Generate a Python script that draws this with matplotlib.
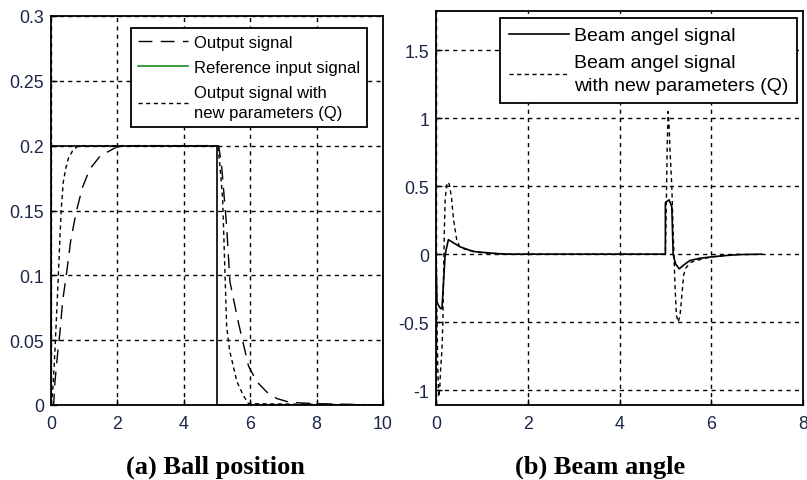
import numpy as np
import matplotlib.pyplot as plt
from matplotlib.lines import Line2D

# (a) ball position
ref_t = [0, 0, 5, 5, 10, 10]
ref_y = [0, 0.2, 0.2, 0, 0, 0.1]

out_t = [0, 0.08, 0.12, 0.2, 0.27, 0.35, 0.47, 0.6, 0.77, 0.95, 1.17, 1.48, 1.98, 2.5, 5.0,
         5.05, 5.14, 5.29, 5.39, 5.64, 5.95, 6.2, 6.5, 6.8, 7.2, 8.0, 10.0]
out_y = [0, 0, 0.018, 0.04, 0.056, 0.08, 0.102, 0.128, 0.15, 0.168, 0.182, 0.192, 0.199, 0.2, 0.2,
         0.2, 0.184, 0.138, 0.095, 0.064, 0.030, 0.018, 0.01, 0.005, 0.002, 0.001, 0.0]

q_t = [0, 0.03, 0.07, 0.12, 0.18, 0.23, 0.27, 0.32, 0.37, 0.45, 0.52, 0.65, 0.82, 5.0,
       5.03, 5.09, 5.17, 5.24, 5.29, 5.38, 5.49, 5.6, 5.8, 5.95, 10.0]
q_y = [0, 0.005, 0.018, 0.043, 0.076, 0.105, 0.13, 0.155, 0.172, 0.183, 0.19, 0.196, 0.2, 0.2,
       0.2, 0.184, 0.159, 0.102, 0.061, 0.042, 0.03, 0.018, 0.007, 0.001, 0.0]

# (b) beam angle
beam_t = [0, 0.01, 0.02, 0.06, 0.1, 0.13, 0.2, 0.27, 0.35, 0.52, 0.81, 1.3, 1.6, 5.0,
          5.0, 5.08, 5.14, 5.17, 5.22, 5.3, 5.4, 5.53, 5.75, 6.0, 6.3, 6.6, 7.1]
beam_y = [0, -0.18, -0.35, -0.38, -0.4, -0.4, 0, 0.107, 0.09, 0.055, 0.02, 0.005, 0, 0,
          0.38, 0.4, 0.35, 0, -0.07, -0.108, -0.08, -0.047, -0.03, -0.02, -0.01, -0.003, 0]

beamq_t = [0, 0.02, 0.04, 0.06, 0.08, 0.1, 0.13, 0.15, 0.17, 0.18, 0.2, 0.24, 0.27, 0.3, 0.34,
           0.38, 0.45, 0.52, 0.7, 1.0, 1.3, 1.6, 5.0,
           5.02, 5.04, 5.06, 5.08, 5.1, 5.14, 5.17, 5.21, 5.24, 5.28, 5.32, 5.36, 5.4, 5.45,
           5.55, 5.8, 6.0, 6.5, 6.6]
beamq_y = [0, -0.45, -0.85, -1.05, -1.0, -0.85, -0.7, -0.5, -0.05, 0.14, 0.41, 0.52, 0.53, 0.5, 0.41,
           0.26, 0.11, 0.05, 0.03, 0.01, 0.005, 0, 0,
           0.35, 0.8, 1.05, 0.95, 0.77, 0.5, 0.16, -0.23, -0.45, -0.5, -0.45, -0.3, -0.15, -0.1,
           -0.06, -0.035, -0.02, -0.005, 0]

labels_a = ['Output signal', 'Reference input signal', 'Output signal with\nnew parameters (Q)']
labels_b = ['Beam angel signal', 'Beam angel signal\nwith new parameters (Q)']

TICK_COLOR = '#1c2848'
LONG_DASH = (0, (10, 6))
SHORT_DASH = (0, (3, 2.5))

plt.rcParams['font.family'] = ['Liberation Sans', 'DejaVu Sans']

fig = plt.figure(figsize=(8.07, 4.81), dpi=100)
ax1 = fig.add_axes([51 / 807, 1 - 406 / 481, 332 / 807, 389 / 481])
ax2 = fig.add_axes([436 / 807, 1 - 406 / 481, 367 / 807, 394 / 481])


def style_axes(ax):
    ax.grid(True, color='black', linestyle=(0, (3, 3)), linewidth=1.0)
    ax.set_axisbelow(True)
    ax.tick_params(direction='in', length=4, width=1, colors='black',
                   labelcolor=TICK_COLOR, labelsize=12.8)
    ax.tick_params(axis='x', pad=7)
    ax.tick_params(axis='y', pad=5)
    for s in ax.spines.values():
        s.set_linewidth(1.3)


ax1.plot(ref_t, ref_y, color='black', linewidth=1.2)
ax1.plot(out_t, out_y, color='black', linewidth=1.0, linestyle=LONG_DASH)
ax1.plot(q_t, q_y, color='black', linewidth=1.0, linestyle=SHORT_DASH)
ax1.set_xlim(0, 10)
ax1.set_ylim(0, 0.3)
ax1.set_xticks(np.arange(0, 11, 2))
ax1.set_yticks([0, 0.05, 0.1, 0.15, 0.2, 0.25, 0.3])
ax1.set_yticklabels(['0', '0.05', '0.1', '0.15', '0.2', '0.25', '0.3'])
style_axes(ax1)

# legend shows the reference in green, as in the original figure
handles1 = [Line2D([], [], color='black', lw=1.0, linestyle=LONG_DASH),
            Line2D([], [], color='#1a8a1a', lw=1.2),
            Line2D([], [], color='black', lw=1.0, linestyle=SHORT_DASH)]
leg1 = ax1.legend(handles1, labels_a,
                  loc='upper right', bbox_to_anchor=(0.952, 0.969), borderaxespad=0,
                  fancybox=False, framealpha=1, edgecolor='black', fontsize=12,
                  handlelength=3.05, handletextpad=0.35, labelspacing=0.6,
                  borderpad=0.4)
leg1.get_frame().set_linewidth(1.3)
for t in leg1.get_texts():
    t.set_linespacing(1.45)

ax2.plot(beam_t, beam_y, color='black', linewidth=1.2)
ax2.plot(beamq_t, beamq_y, color='black', linewidth=1.0, linestyle=SHORT_DASH)
ax2.set_xlim(0, 8)
ax2.set_ylim(-1.11, 1.79)
ax2.set_xticks([0, 2, 4, 6, 8])
ax2.set_yticks([-1, -0.5, 0, 0.5, 1, 1.5])
ax2.set_yticklabels(['-1', '-0.5', '0', '0.5', '1', '1.5'])
style_axes(ax2)

handles2 = [Line2D([], [], color='black', lw=1.2),
            Line2D([], [], color='black', lw=1.0, linestyle=SHORT_DASH)]
leg2 = ax2.legend(handles2, labels_b,
                  loc='upper right', bbox_to_anchor=(0.984, 0.982), borderaxespad=0,
                  fancybox=False, framealpha=1, edgecolor='black', fontsize=14,
                  handlelength=3.1, handletextpad=0.25, labelspacing=0.5,
                  borderpad=0.45)
leg2.get_frame().set_linewidth(1.3)
for t in leg2.get_texts():
    t.set_linespacing(1.45)

fig.text(215 / 807, 1 - 467 / 481, '(a) Ball position', ha='center', va='center',
         family=['Liberation Serif', 'DejaVu Serif'], fontweight='bold', fontsize=19)
fig.text(600 / 807, 1 - 467 / 481, '(b) Beam angle', ha='center', va='center',
         family=['Liberation Serif', 'DejaVu Serif'], fontweight='bold', fontsize=19)

fig.savefig('out.png', dpi=100)
